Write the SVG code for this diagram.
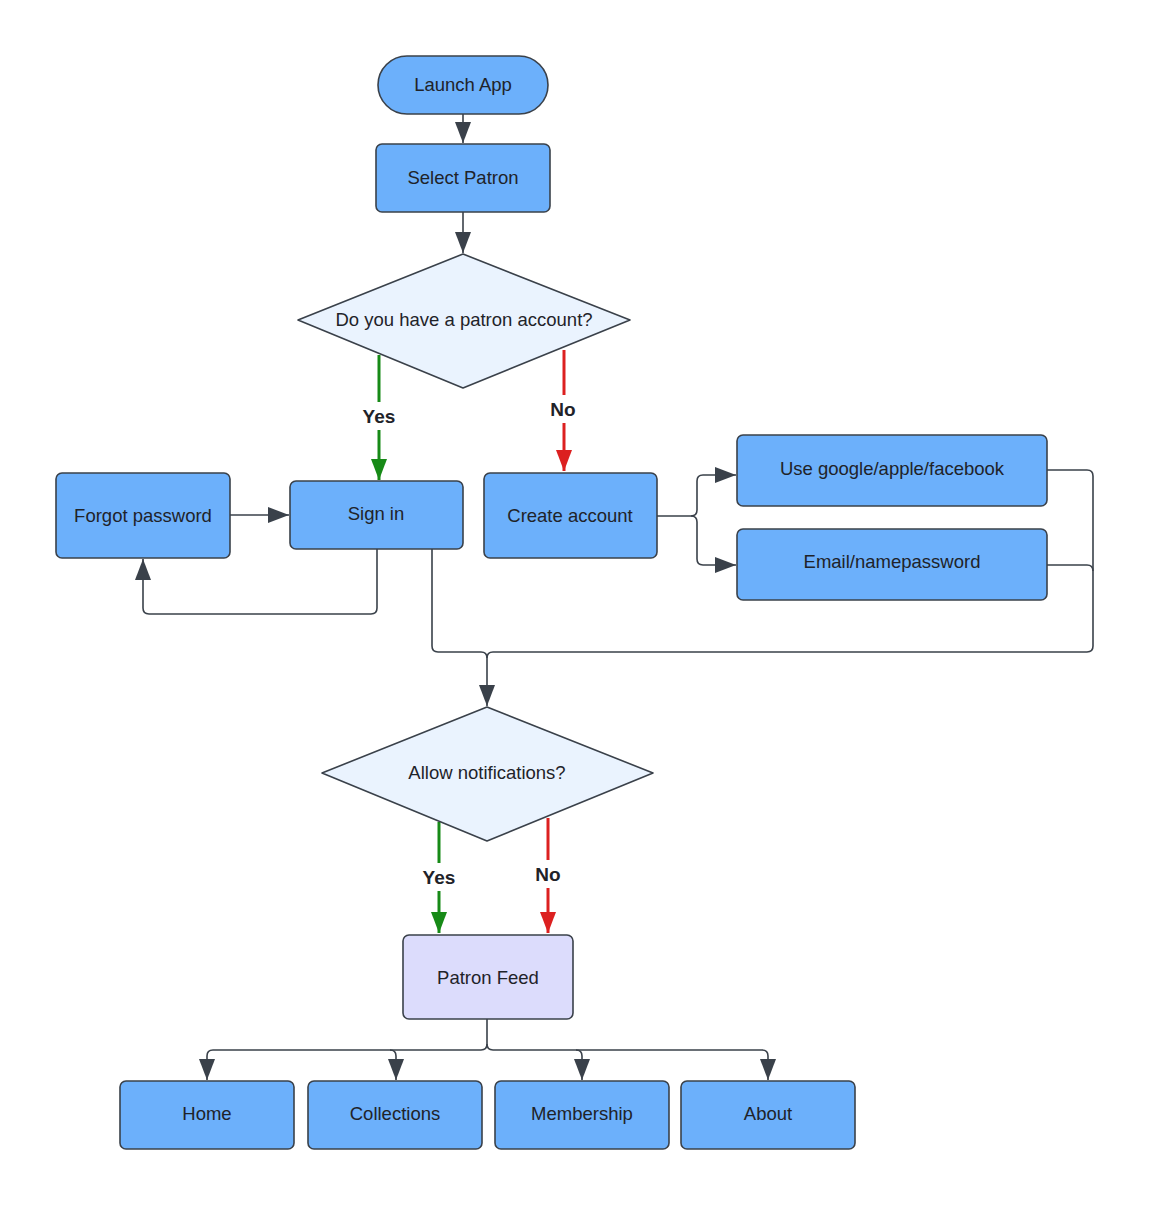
<svg xmlns="http://www.w3.org/2000/svg" width="1149" height="1206" viewBox="0 0 1149 1206">
<defs>
<style>
.box{fill:#6cb0fb;stroke:#3a414a;stroke-width:1.6}
.dia{fill:#eaf3fe;stroke:#3a414a;stroke-width:1.6;stroke-linejoin:round}
.feed{fill:#dcdcfc;stroke:#3a414a;stroke-width:1.6}
.t{font-family:"Liberation Sans",Arial,sans-serif;font-size:18.5px;fill:#1f2329;text-anchor:middle;dominant-baseline:central}
.lbl{font-family:"Liberation Sans",Arial,sans-serif;font-size:19px;font-weight:bold;fill:#1f2329;text-anchor:middle;dominant-baseline:central}
.c{fill:none;stroke:#3a414a;stroke-width:1.6}
.g{fill:none;stroke:#178a17;stroke-width:3}
.r{fill:none;stroke:#dc2020;stroke-width:3}
</style>
<marker id="ah" markerUnits="userSpaceOnUse" markerWidth="22" markerHeight="18" refX="21" refY="9" orient="auto"><path d="M0,1 L21,9 L0,17 z" fill="#3a414a"/></marker>
<marker id="ahg" markerUnits="userSpaceOnUse" markerWidth="22" markerHeight="18" refX="21" refY="9" orient="auto"><path d="M0,1 L21,9 L0,17 z" fill="#178a17"/></marker>
<marker id="ahr" markerUnits="userSpaceOnUse" markerWidth="22" markerHeight="18" refX="21" refY="9" orient="auto"><path d="M0,1 L21,9 L0,17 z" fill="#dc2020"/></marker>
</defs>
<rect width="1149" height="1206" fill="#ffffff"/>
<g id="connectors">
<path class="c" d="M463,114 L463,143" marker-end="url(#ah)"/>
<path class="c" d="M463,212 L463,253" marker-end="url(#ah)"/>
<path class="g" d="M379,355 L379,402"/>
<path class="g" d="M379,430 L379,480" marker-end="url(#ahg)"/>
<path class="r" d="M564,350 L564,395"/>
<path class="r" d="M564,423 L564,471" marker-end="url(#ahr)"/>
<path class="c" d="M230,515 L289,515" marker-end="url(#ah)"/>
<path class="c" d="M377,549 L377,608 Q377,614 371,614 L149,614 Q143,614 143,608 L143,559" marker-end="url(#ah)"/>
<path class="c" d="M432,549 L432,646 Q432,652 438,652 L481,652 Q487,652 487,658 L487,706" marker-end="url(#ah)"/>
<path class="c" d="M1047,470 L1087,470 Q1093,470 1093,476 L1093,646 Q1093,652 1087,652 L493,652 Q487,652 487,658"/>
<path class="c" d="M1047,565 L1087,565 Q1093,565 1093,571"/>
<path class="c" d="M657,516 L691,516 Q697,516 697,510 L697,481 Q697,475 703,475 L736,475" marker-end="url(#ah)"/>
<path class="c" d="M691,516 Q697,516 697,522 L697,559 Q697,565 703,565 L736,565" marker-end="url(#ah)"/>
<path class="g" d="M439,822 L439,863"/>
<path class="g" d="M439,891 L439,933" marker-end="url(#ahg)"/>
<path class="r" d="M548,818 L548,860"/>
<path class="r" d="M548,888 L548,933" marker-end="url(#ahr)"/>
<path class="c" d="M487,1019 L487,1044 Q487,1050 481,1050 L213,1050 Q207,1050 207,1056 L207,1080" marker-end="url(#ah)"/>
<path class="c" d="M390,1050 Q396,1050 396,1056 L396,1080" marker-end="url(#ah)"/>
<path class="c" d="M487,1044 Q487,1050 493,1050 L762,1050 Q768,1050 768,1056 L768,1080" marker-end="url(#ah)"/>
<path class="c" d="M576,1050 Q582,1050 582,1056 L582,1080" marker-end="url(#ah)"/>
</g>
<g id="launch"><rect class="box" x="378" y="56" width="170" height="58" rx="29"/><text class="t" x="463" y="84">Launch App</text></g>
<g id="select"><rect class="box" x="376" y="144" width="174" height="68" rx="6"/><text class="t" x="463" y="177">Select Patron</text></g>
<g id="q1"><path class="dia" d="M463,254 L630,320 L463,388 L298,320 Z"/><text class="t" x="464" y="319">Do you have a patron account?</text></g>
<text class="lbl" x="379" y="416">Yes</text>
<text class="lbl" x="563" y="409">No</text>
<g id="forgot"><rect class="box" x="56" y="473" width="174" height="85" rx="6"/><text class="t" x="143" y="515">Forgot password</text></g>
<g id="signin"><rect class="box" x="290" y="481" width="173" height="68" rx="6"/><text class="t" x="376" y="513">Sign in</text></g>
<g id="create"><rect class="box" x="484" y="473" width="173" height="85" rx="6"/><text class="t" x="570" y="515">Create account</text></g>
<g id="social"><rect class="box" x="737" y="435" width="310" height="71" rx="6"/><text class="t" x="892" y="468">Use google/apple/facebook</text></g>
<g id="email"><rect class="box" x="737" y="529" width="310" height="71" rx="6"/><text class="t" x="892" y="561">Email/namepassword</text></g>
<g id="q2"><path class="dia" d="M487,707 L653,773 L487,841 L322,773 Z"/><text class="t" x="487" y="772">Allow notifications?</text></g>
<text class="lbl" x="439" y="877">Yes</text>
<text class="lbl" x="548" y="874">No</text>
<g id="feed"><rect class="feed" x="403" y="935" width="170" height="84" rx="6"/><text class="t" x="488" y="977">Patron Feed</text></g>
<g id="home"><rect class="box" x="120" y="1081" width="174" height="68" rx="6"/><text class="t" x="207" y="1113">Home</text></g>
<g id="collections"><rect class="box" x="308" y="1081" width="174" height="68" rx="6"/><text class="t" x="395" y="1113">Collections</text></g>
<g id="membership"><rect class="box" x="495" y="1081" width="174" height="68" rx="6"/><text class="t" x="582" y="1113">Membership</text></g>
<g id="about"><rect class="box" x="681" y="1081" width="174" height="68" rx="6"/><text class="t" x="768" y="1113">About</text></g>
</svg>
